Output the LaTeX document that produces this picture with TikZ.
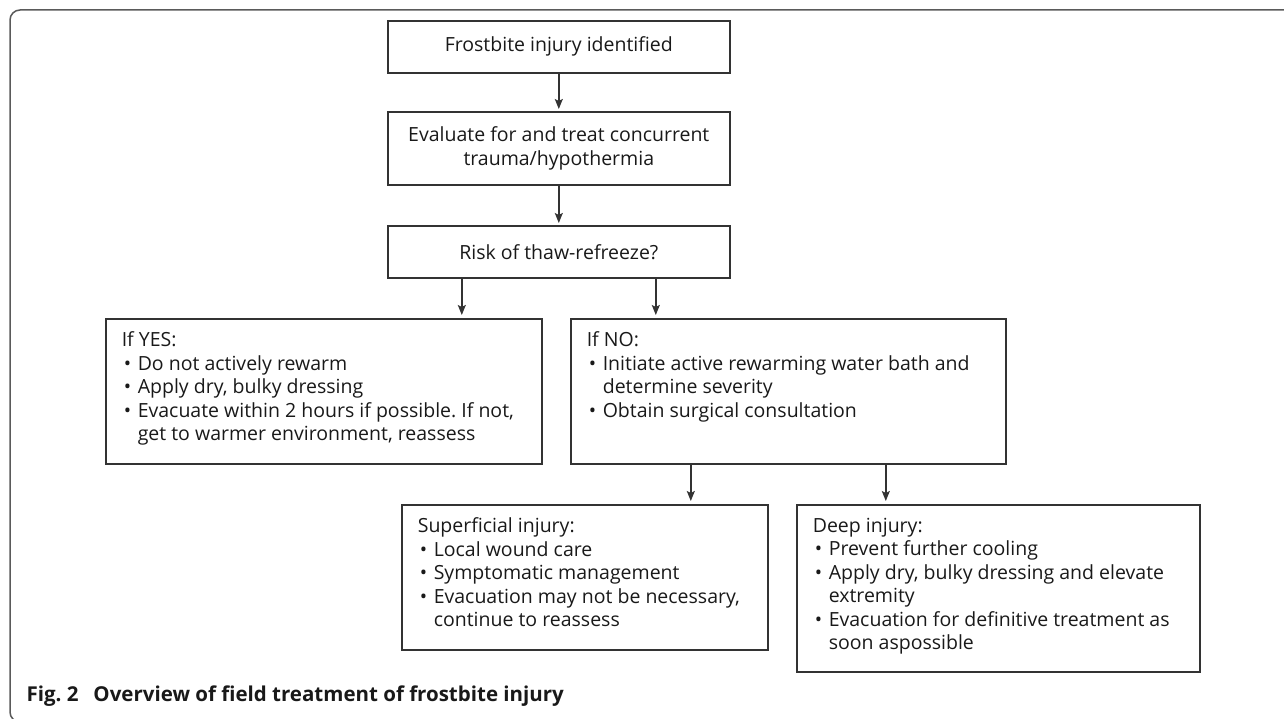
\documentclass[tikz,border=0pt]{standalone}
\usepackage{fontspec}
\setmainfont{Open Sans}
\usetikzlibrary{arrows.meta}
\definecolor{linegray}{HTML}{333333}
\definecolor{framegray}{HTML}{5A5A5A}
\frenchspacing
\newcommand{\boxtext}[3]{\begin{minipage}[t][#2][t]{#1}\raggedright #3\end{minipage}}
\newcommand{\bul}{\makebox[16pt][l]{\hspace{2pt}\textbullet}}
\newcommand{\cont}{\hspace*{16pt}}
\begin{document}
\begin{tikzpicture}
        [x=1pt,y=-1pt,
        every node/.style={font=\fontsize{19.5}{23.5}\selectfont,text=black!90},
        stepbox/.style={draw=linegray,line width=1.6pt,minimum width=342pt,align=center,anchor=north west,inner sep=0pt},
        listbox/.style={draw=linegray,line width=1.6pt,anchor=north west,inner xsep=16pt,inner ysep=13pt},
        arr/.style={-{Stealth[length=10pt,width=8pt,inset=2pt]},line width=1.4pt,draw=linegray,shorten >=3pt}]
        \useasboundingbox (0,0) rectangle (1284,719);
        \draw[framegray,line width=1.5pt,rounded corners=10pt] (1300,10) -- (10,10) -- (10,722) -- (1300,722);
        % main line
        \node[stepbox,minimum height=52pt] (found) at (387,20) {Frostbite injury identified};
        \node[stepbox,minimum height=73pt] (assess) at (387,111) {Evaluate for and treat concurrent\\trauma/hypothermia};
        \node[stepbox,minimum height=52pt] (risk) at (387,225) {Risk of thaw-refreeze?};
        % answers
        \node[listbox] (yes) at (105,318) {\boxtext{404pt}{119pt}{If YES:\\
          \bul Do not actively rewarm\\
          \bul Apply dry, bulky dressing\\
          \bul Evacuate within 2 hours if possible. If not,\\
          \cont get to warmer environment, reassess}};
        \node[listbox] (no) at (570,318) {\boxtext{403pt}{119pt}{If NO:\\
          \bul Initiate active rewarming water bath and\\
          \cont determine severity\\
          \bul Obtain surgical consultation}};
        % severity
        \node[listbox] (superficial) at (401,504) {\boxtext{334pt}{119pt}{Superficial injury:\\
          \bul Local wound care\\
          \bul Symptomatic management\\
          \bul Evacuation may not be necessary,\\
          \cont continue to reassess}};
        \node[listbox] (deep) at (796,504) {\boxtext{371pt}{141pt}{Deep injury:\\
          \bul Prevent further cooling\\
          \bul Apply dry, bulky dressing and elevate\\
          \cont extremity\\
          \bul Evacuation for definitive treatment as\\
          \cont soon aspossible}};
        \node[anchor=base west,font=\bfseries\fontsize{20.5}{22}\selectfont] (caption) at (23,701)
          {Fig. 2\hspace{15pt}Overview of field treatment of frostbite injury};
        % arrows
        \draw[arr,shorten >=2pt] (found) -- (assess);
        \draw[arr,shorten >=2pt] (assess) -- (risk);
        \draw[arr] ([xshift=-97pt]risk.south) -- ([xshift=-97pt]risk.south |- yes.north);
        \draw[arr] ([xshift=97pt]risk.south) -- ([xshift=97pt]risk.south |- no.north);
        \draw[arr] ([xshift=-97.5pt]no.south) -- ([xshift=-97.5pt]no.south |- superficial.north);
        \draw[arr] ([xshift=97.5pt]no.south) -- ([xshift=97.5pt]no.south |- deep.north);
        \end{tikzpicture}
\end{document}
